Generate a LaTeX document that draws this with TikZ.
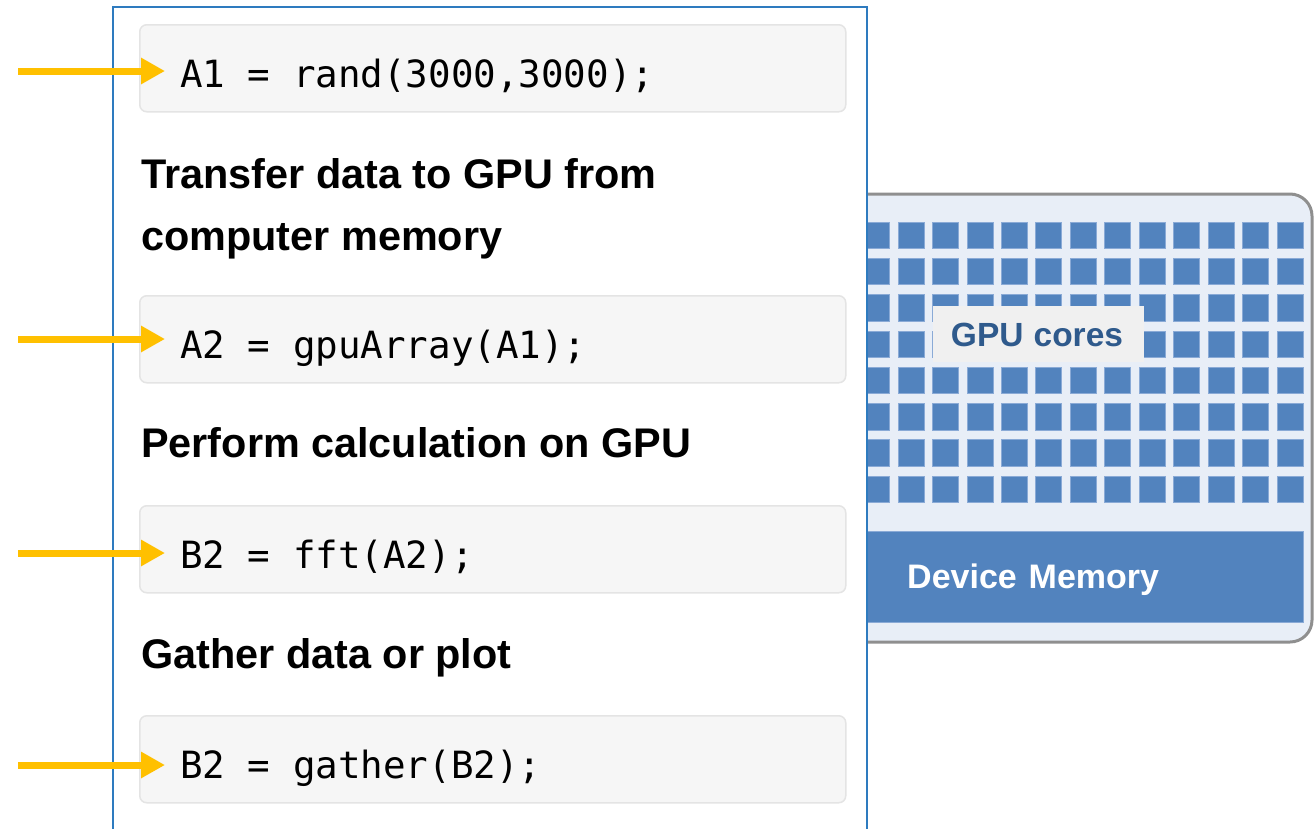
\documentclass[tikz,border=0pt]{standalone}
\usepackage{fontspec}
\setmainfont{Liberation Sans}
\newfontfamily\codefont{DejaVu Sans Mono}
\usetikzlibrary{arrows.meta}
\definecolor{panelblue}{HTML}{2E7BBF}
\definecolor{arrowgold}{HTML}{FFC000}
\definecolor{codefill}{HTML}{F6F6F6}
\definecolor{codeedge}{HTML}{E4E4E4}
\definecolor{gpufill}{HTML}{E8EEF7}
\definecolor{gpuedge}{HTML}{8F8F8F}
\definecolor{coreblue}{HTML}{5283BE}
\definecolor{coreedge}{HTML}{8AAAD6}
\definecolor{labelfill}{HTML}{F0F0F0}
\definecolor{labeltext}{HTML}{2F5A8C}
\begin{document}
\begin{tikzpicture}[x=1pt,y=-1pt,
  codebox/.style={anchor=north west, minimum width=706pt, minimum height=87pt, inner sep=0pt,
    fill=codefill, draw=codeedge, line width=1.5pt, rounded corners=7pt},
  codetext/.style={anchor=base west, inner sep=0pt, font=\codefont\fontsize{37.5pt}{44pt}\selectfont},
  heading/.style={anchor=base west, inner sep=0pt, font=\bfseries\fontsize{41.4pt}{49pt}\selectfont},
  arr/.style={draw=arrowgold, line width=7pt, -{Triangle[length=24pt,width=25pt]}},
  core/.style={fill=coreblue, draw=coreedge, line width=0.8pt},
]
\useasboundingbox (0,0) rectangle (1314,828);
\fill[white] (0,0) rectangle (1314,828);

% GPU panel
\draw[gpuedge, line width=3pt, fill=gpufill, rounded corners=22pt]
  (800,194) rectangle (1312,642);
\foreach \i in {0,...,12}{
  \foreach \j in {0,...,7}{
    \draw[core] ({863.6+34.45*\i},{222+36.3*\j}) rectangle ++(26,26.5);
  }
}
\node[anchor=north west, inner sep=0pt, minimum width=211pt, minimum height=56pt, fill=labelfill] (coresbox) at (933,306) {};
\node[anchor=base, inner sep=0pt, text=labeltext, font=\bfseries\fontsize{33.5pt}{40pt}\selectfont] (coreslabel) at (1037,346) {GPU\hspace{0.3em}cores};
\node[anchor=north west, inner sep=0pt, minimum width=463pt, minimum height=91pt, fill=coreblue, draw=coreedge, line width=1pt] (mem) at (840,531) {};
\node[anchor=base west, inner sep=0pt, text=white, font=\bfseries\fontsize{34pt}{40pt}\selectfont] (memlabel) at (907,588) {Device\hspace{0.35em}Memory};

% outer panel
\fill[white] (113,7) rectangle (867,830);
\draw[panelblue, line width=2pt] (113,830) -- (113,7) -- (867,7) -- (867,830);

% code boxes
\node[codebox] (b1) at (139,24) {};
\node[codebox] (b2) at (139,295) {};
\node[codebox] (b3) at (139,505) {};
\node[codebox] (b4) at (139,715) {};

\node[codetext] (c1) at (180,87) {A1 = rand(3000,3000);};
\node[codetext] (c2) at (180,358) {A2 = gpuArray(A1);};
\node[codetext] (c3) at (180,568) {B2 = fft(A2);};
\node[codetext] (c4) at (180,778) {B2 = gather(B2);};

% headings
\node[heading] (h1a) at (141,188) {Transfer data to GPU from};
\node[heading] (h1b) at (141,250) {computer memory};
\node[heading] (h2) at (141,457) {Perform calculation on GPU};
\node[heading] (h3) at (141,668) {Gather data or plot};

% arrows
\coordinate (s1) at (18,71);  \coordinate (t1) at (165,71);
\coordinate (s2) at (18,339); \coordinate (t2) at (165,339);
\coordinate (s3) at (18,553); \coordinate (t3) at (165,553);
\coordinate (s4) at (18,765); \coordinate (t4) at (165,765);
\draw[arr] (s1) -- (t1);
\draw[arr] (s2) -- (t2);
\draw[arr] (s3) -- (t3);
\draw[arr] (s4) -- (t4);
\end{tikzpicture}
\end{document}
